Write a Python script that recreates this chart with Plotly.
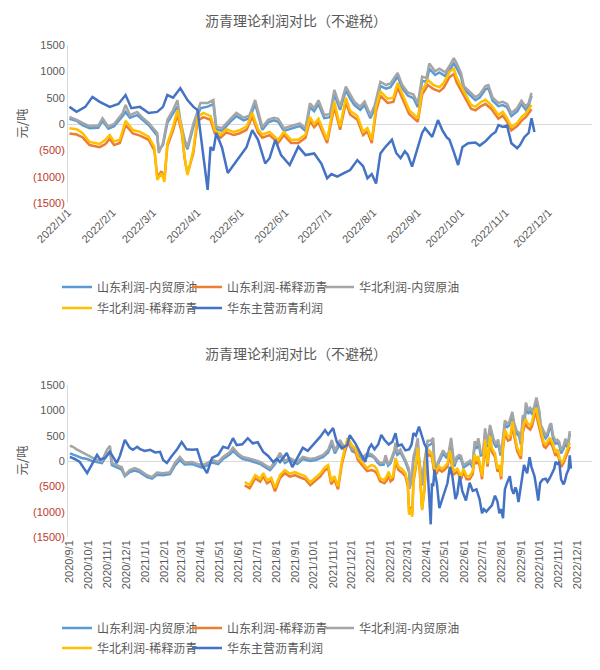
import pandas as pd
import plotly.graph_objects as go

# ---------------- Data ----------------
names = ["山东利润-内贸原油", "山东利润-稀释沥青", "华北利润-内贸原油", "华北利润-稀释沥青", "华东主营沥青利润"]
colors = ["#5B9BD5", "#ED7D31", "#A5A5A5", "#FFC000", "#4472C4"]

# Chart 1: 2022 (day offsets from 2022-01-01)
crude_days_2022 = [1, 6, 10, 15, 21, 24, 28, 32, 38, 40, 43, 48, 51, 56, 62, 63, 66, 69, 73, 76,
                   78, 81, 83, 87, 92, 97, 101, 103, 107, 110, 113, 117, 122, 126, 130, 135, 139, 143, 146, 150,
                   155, 161, 165, 168, 171, 174, 178, 182, 185, 189, 193, 196, 199, 203, 206, 210, 213, 217, 221, 224,
                   227, 229, 232, 236, 240, 243, 246, 249, 251, 255, 258, 262, 265, 268, 270, 273, 275, 279, 283, 286,
                   290, 292, 295, 299, 302, 305, 308, 312, 315, 318, 320, 322]
shandong_crude_2022 = [100, 60, -20, -80, -70, 60, -90, -40, 150, 230, 120, 170, 100, -20, -220, -500, -400, 20, 200, 330,
                       40, -330, -480, -60, 300, 330, 380, -100, -130, -30, 50, 150, 70, 110, 380, -110, 30, 70, 40, -130,
                       -90, -40, -130, 320, 240, 380, 110, 130, 560, 270, 640, 480, 360, 270, 360, 110, 290, 720, 670, 700,
                       820, 900, 690, 540, 490, 320, 820, 800, 1050, 930, 980, 910, 1020, 1150, 1060, 900, 660, 560, 450, 500,
                       660, 680, 440, 340, 360, 320, 150, 240, 380, 270, 350, 540]
huabei_crude_2022 = [135, 80, 20, -40, -30, 110, -50, 0, 210, 360, 170, 230, 140, 20, -170, -550, -360, 75, 265, 450,
                     80, -300, -440, 0, 400, 400, 455, -50, -80, 20, 100, 210, 120, 160, 455, -60, 80, 120, 100, -80,
                     -40, 10, -80, 390, 300, 450, 170, 190, 645, 330, 710, 550, 420, 330, 425, 170, 350, 800, 740, 770,
                     900, 970, 750, 600, 560, 390, 900, 870, 1150, 1000, 1050, 980, 1100, 1250, 1150, 970, 720, 620, 510, 560,
                     720, 740, 500, 400, 420, 380, 210, 300, 440, 330, 400, 590]

dil_days_2022 = [1, 6, 10, 15, 22, 26, 29, 32, 36, 40, 45, 50, 56, 60, 62, 65, 67, 69, 73, 76,
                 79, 81, 83, 87, 90, 94, 99, 102, 106, 110, 115, 119, 124, 128, 132, 135, 140, 146, 150, 155,
                 160, 165, 168, 171, 174, 178, 180, 185, 189, 193, 196, 201, 205, 208, 211, 214, 217, 222, 226, 229,
                 233, 237, 243, 246, 250, 254, 258, 261, 265, 268, 270, 273, 276, 280, 283, 287, 290, 294, 299, 302,
                 305, 308, 312, 315, 318, 322]
shandong_dil_2022 = [-180, -200, -250, -400, -440, -380, -280, -400, -360, -20, -180, -220, -300, -500, -1000, -900, -1050, -420, -120, 180,
                     -160, -650, -950, -560, 60, 130, 80, -180, -260, -160, -210, -180, -110, 140, -160, -260, -210, -360, -210, -360,
                     -360, -260, 60, -60, 30, -210, -360, 330, -110, 410, 180, 80, -210, -140, -360, 240, 540, 400, 420, 690,
                     440, 190, 40, 560, 740, 660, 620, 690, 890, 950, 790, 640, 510, 290, 260, 340, 380, 290, 100, 160,
                     40, -120, -40, 60, 130, 280]
huabei_dil_2022 = [-80, -100, -170, -340, -380, -300, -210, -330, -300, 60, -115, -150, -240, -440, -1060, -940, -1100, -370, -55, 265,
                   -100, -620, -970, -500, 135, 210, 150, -115, -200, -100, -150, -120, -50, 210, -100, -200, -150, -300, -150, -300,
                   -300, -200, 135, 0, 100, -150, -300, 420, -50, 500, 250, 150, -150, -80, -300, 325, 620, 480, 500, 780,
                   520, 265, 110, 640, 835, 740, 700, 780, 990, 1050, 880, 720, 590, 360, 330, 420, 460, 360, 170, 230,
                   110, -55, 20, 130, 200, 360]

east_days_2022 = [1, 6, 12, 17, 22, 29, 35, 40, 44, 50, 56, 62, 66, 69, 73, 78, 83, 87, 90, 92,
                  94, 97, 99, 101, 103, 107, 111, 115, 119, 124, 128, 132, 137, 140, 144, 148, 154, 160, 165, 171,
                  176, 180, 183, 187, 192, 196, 201, 205, 208, 211, 214, 217, 220, 225, 228, 231, 234, 236, 239, 243,
                  246, 248, 253, 257, 260, 263, 265, 268, 271, 274, 278, 283, 286, 290, 294, 297, 299, 302, 305, 308,
                  312, 314, 317, 320, 322, 324]
east_main_2022 = [325, 230, 325, 515, 420, 325, 380, 550, 300, 325, 210, 230, 325, 550, 500, 680, 455, 330, 265, -170,
                  -550, -1250, -440, -500, -170, -450, -930, -780, -630, -440, -115, -300, -750, -650, -300, -590, -780, -430, -590, -560,
                  -750, -1030, -950, -1000, -930, -875, -685, -800, -1030, -950, -1130, -560, -450, -300, -550, -650, -520, -580, -810, -460,
                  -170, -80, -245, 75, -115, -250, -300, -530, -780, -435, -365, -350, -410, -330, -210, -150, -20, -55, -30, -365,
                  -460, -400, -250, -170, 110, -150]

# Chart 2 history: 2020-09 .. 2021-12 (day offsets from 2020-09-01)
crude_days_hist = [0, 5, 11, 19, 28, 36, 44, 52, 60, 65, 68, 76, 84, 89, 97, 105, 113, 125, 133, 141,
                   151, 162, 170, 178, 186, 198, 206, 214, 223, 230, 240, 248, 259, 264, 272, 280, 288, 296, 308, 316,
                   324, 332, 340, 348, 356, 368, 377, 389, 398, 410, 418, 424, 429, 437, 445, 450, 457, 465, 473, 481]
shandong_crude_hist = [150, 120, 100, 60, 40, 0, -20, -40, 120, 200, -80, -120, -170, -300, -220, -190, -220, -320, -350, -270,
                       -280, -260, -90, 20, -70, -60, -100, -130, -80, -30, -60, 40, 130, 200, 110, 40, 20, -10, -60, -120,
                       -180, -60, 120, -40, 20, -60, 40, 0, 20, 80, 170, 340, 150, 340, 200, 380, 190, 150, 20, 100]
huabei_crude_hist = [300, 280, 230, 180, 120, 60, 20, 0, 220, 300, -40, -80, -120, -280, -180, -140, -180, -280, -320, -230,
                     -240, -220, -40, 80, -30, -20, -60, -80, -40, 20, -20, 80, 180, 260, 150, 80, 60, 30, -20, -80,
                     -140, -20, 160, 0, 60, -20, 80, 40, 60, 120, 220, 415, 200, 415, 250, 450, 240, 200, 60, 150]

dil_days_hist = [283, 291, 300, 308, 313, 319, 326, 332, 340, 348, 356, 364, 372, 381, 389, 397, 405, 413, 418, 423,
                 428, 434, 440, 445, 450, 457, 462, 466, 473, 481]
shandong_dil_hist = [-480, -540, -340, -410, -300, -440, -390, -600, -340, -240, -310, -280, -320, -360, -480, -390, -310, -180, -140, -460,
                     -360, -560, -80, 180, 370, 230, 190, 20, -80, -200]
huabei_dil_hist = [-415, -470, -280, -350, -240, -380, -330, -530, -280, -180, -250, -220, -260, -300, -420, -330, -250, -120, -80, -400,
                   -300, -500, -20, 260, 450, 300, 260, 80, -20, -140]

east_days_hist = [0, 8, 16, 23, 28, 36, 44, 49, 57, 65, 73, 76, 81, 89, 97, 102, 109, 113, 121, 130,
                  138, 146, 151, 157, 165, 173, 181, 189, 198, 206, 214, 222, 230, 240, 248, 256, 264, 270, 279, 288,
                  296, 304, 313, 321, 329, 335, 340, 345, 351, 360, 368, 377, 385, 394, 405, 413, 418, 426, 432, 440,
                  449, 453, 462, 470, 478, 484]
east_main_hist = [80, 40, -20, -150, -240, -60, 120, 30, 60, 180, 20, -40, 100, 415, 260, 220, 280, 240, 200, 220,
                  170, 180, 20, -40, 100, 220, 375, 230, 220, 230, -80, -240, 60, 120, 280, 250, 450, 315, 330, 450,
                  350, 370, 180, 100, -20, 40, -20, 60, 160, -120, 60, 260, 200, 315, 475, 610, 520, 650, 375, 250,
                  315, 510, 350, 160, -20, 250]

y_tick_vals = [1500, 1000, 500, 0, -500, -1000, -1500]
y_tick_text = ["1500", "1000", "500", "0", "(500)", "(1000)", "(1500)"]
title_text = "沥青理论利润对比（不避税）"
y_title = "元/吨"

# ---------------- Build ----------------
def to_dates(base, days):
    return list(pd.Timestamp(base) + pd.to_timedelta(days, unit="D"))

d_crude = to_dates("2022-01-01", crude_days_2022)
d_dil = to_dates("2022-01-01", dil_days_2022)
d_east = to_dates("2022-01-01", east_days_2022)
h_crude = to_dates("2020-09-01", crude_days_hist)
h_dil = to_dates("2020-09-01", dil_days_hist)
h_east = to_dates("2020-09-01", east_days_hist)

chart1 = [
    (d_crude, shandong_crude_2022),
    (d_dil, shandong_dil_2022),
    (d_crude, huabei_crude_2022),
    (d_dil, huabei_dil_2022),
    (d_east, east_main_2022),
]
chart2 = [
    (h_crude + d_crude, shandong_crude_hist + shandong_crude_2022),
    (h_dil + d_dil, shandong_dil_hist + shandong_dil_2022),
    (h_crude + d_crude, huabei_crude_hist + huabei_crude_2022),
    (h_dil + d_dil, huabei_dil_hist + huabei_dil_2022),
    (h_east + d_east, east_main_hist + east_main_2022),
]

# Page body has an 8px margin; layout positions below are given in screen pixels.
OFF = 8
H = 670.0
W = 600.0
L = 68 - OFF
R_EDGE = 592 - OFF
W_PLOT = R_EDGE - L

def py(px):
    return 1 - (px - OFF) / H

def pxp(px):
    return (px - OFF - L) / W_PLOT

RED = "#C0392B"
GREY = "#595959"
cjk = "Noto Sans CJK SC, sans-serif"
num_family = "Liberation Sans, Arial, sans-serif"

# legend slot positions (screen pixel): line start x, row centre y
slot_x = [68, 198, 330, 68, 198]
slot_row = [0, 0, 0, 1, 1]
rows_c1 = [287, 308]
rows_c2 = [628, 648]

fig = go.Figure()
legend_layouts = {}
for chart_idx, (series, xa, ya, rows) in enumerate(
        [(chart1, "x", "y", rows_c1), (chart2, "x2", "y2", rows_c2)]):
    for i, (xs, ys) in enumerate(series):
        n = chart_idx * 5 + i + 1
        lname = "legend" if n == 1 else f"legend{n}"
        fig.add_trace(go.Scatter(x=xs, y=ys, mode="lines", name=names[i],
                                 line=dict(color=colors[i], width=2.5),
                                 xaxis=xa, yaxis=ya, legend=lname))
        legend_layouts[lname] = dict(
            orientation="h", xref="container", yref="container",
            x=(slot_x[i] - OFF - 11) / W, xanchor="left",
            y=1 - (rows[slot_row[i]] - OFF) / H, yanchor="middle",
            font=dict(family=cjk, size=12, color=GREY),
            bgcolor="rgba(0,0,0,0)", borderwidth=0)

ttext = [t if not t.startswith("(") else f'<span style="color:{RED}">{t}</span>' for t in y_tick_text]
num_font = dict(family=num_family, size=11, color=GREY)

yax = dict(range=[-1500, 1500], tickvals=y_tick_vals, ticktext=ttext, showgrid=False,
           zeroline=True, zerolinecolor="#D9D9D9", zerolinewidth=1,
           showline=True, linecolor="#D9D9D9", linewidth=1, ticks="", tickfont=num_font)

fig.update_layout(
    width=600, height=670,
    margin=dict(l=L, r=W - R_EDGE, t=0, b=0, autoexpand=False),
    paper_bgcolor="white", plot_bgcolor="white",
    font=dict(family=cjk, color=GREY),
    showlegend=True,
    xaxis=dict(domain=[0, 1], anchor="y", type="date", range=["2022-01-01", "2022-12-31"],
               dtick="M1", tick0="2022-01-01", tickformat="%Y/%-m/%-d", tickangle=-45,
               showgrid=False, zeroline=False, showline=False, ticks="",
               tickfont=dict(family=num_family, size=11, color=GREY)),
    yaxis=dict(domain=[py(203), py(45)], anchor="x", **yax),
    xaxis2=dict(domain=[0, 1], anchor="y2", type="date", range=["2020-08-29", "2022-12-25"],
                dtick="M1", tick0="2020-09-01", tickformat="%Y/%-m/%-d", tickangle=-90,
                showgrid=False, zeroline=False, showline=False, ticks="",
                tickfont=dict(family=num_family, size=11, color=GREY)),
    yaxis2=dict(domain=[py(537), py(385)], anchor="x2", **yax),
)
fig.update_layout(**legend_layouts)

annots = [
    dict(text=title_text, x=pxp(296), y=py(OFF), xref="paper", yref="paper",
         xanchor="center", yanchor="top", showarrow=False,
         font=dict(family=cjk, size=14, color=GREY)),
    dict(text=title_text, x=pxp(296), y=py(353), xref="paper", yref="paper",
         xanchor="center", yanchor="middle", showarrow=False,
         font=dict(family=cjk, size=14, color=GREY)),
]
for ty in (124, 461):
    annots.append(dict(text=y_title, x=pxp(OFF + 1), y=py(ty), xref="paper", yref="paper",
                       xanchor="left", yanchor="middle", showarrow=False, textangle=-90,
                       font=dict(family=cjk, size=12.5, color=GREY)))
fig.update_layout(annotations=annots)

fig.write_html("out.html")
